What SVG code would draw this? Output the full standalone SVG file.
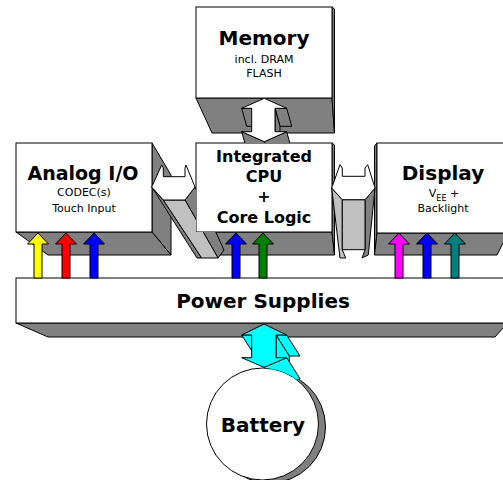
<svg xmlns="http://www.w3.org/2000/svg" xmlns:xlink="http://www.w3.org/1999/xlink" width="503" height="480" viewBox="0 0 503 480">
<style>
.face{fill:#fff;stroke:#000;stroke-width:1}
.sh{fill:#808080;stroke:#000;stroke-width:1;stroke-linejoin:round}
.lt{fill:#c0c0c0;stroke:#000;stroke-width:1;stroke-linejoin:round}
.wa{fill:#fff;stroke:#000;stroke-width:1;stroke-linejoin:round}
.cy{fill:#00ffff;stroke:#000;stroke-width:1;stroke-linejoin:round}
.t1{font-family:"DejaVu Sans",sans-serif;font-weight:bold;text-anchor:middle;fill:#000}
.t2{font-family:"DejaVu Sans",sans-serif;font-size:11px;text-anchor:middle;fill:#000}
</style>
<defs>
<path id="pa" d="M0,233 L10.5,244 L4,244 L4,278 L-4,278 L-4,244 L-10.5,244 Z" stroke="#000" stroke-width="1" stroke-linejoin="miter"/>
<clipPath id="noCpu"><path clip-rule="evenodd" d="M0 0H503V480H0Z M196 143H332V232H196Z"/></clipPath>
<clipPath id="noBat"><path clip-rule="evenodd" d="M0 0H503V480H0Z M206.5 424a56 56 0 1 0 112 0a56 56 0 1 0 -112 0Z"/></clipPath>
</defs>

<g id="memory">
<polygon class="sh" points="196,98 332,98 334.5,133 212,133"/>
<polygon class="sh" points="332,7 334.5,9 334.5,133 332,98"/>
<rect class="face" x="196" y="7" width="136" height="91"/>
<text class="t1" x="264" y="45" font-size="20">Memory</text>
<text class="t2" x="264" y="63">incl. DRAM</text>
<text class="t2" x="264" y="77">FLASH</text>
</g>

<g id="analog">
<polygon class="sh" points="152,143 171,175 171,255 152,232"/>
<polygon class="sh" points="16,232 152,232 171,255 48,255"/>
<rect class="face" x="16" y="143" width="136" height="89"/>
<text class="t1" x="83" y="180" font-size="19">Analog I/O</text>
<text class="t2" x="84" y="196">CODEC(s)</text>
<text class="t2" x="84" y="212">Touch Input</text>
</g>

<g id="cpu">
<polygon class="sh" points="196,232 332,232 334.5,255 206,255"/>
<polygon class="sh" points="332,143 334.5,145 334.5,255 332,232"/>
<rect class="face" x="196" y="143" width="136" height="89"/>
<text class="t1" x="264" y="162" font-size="16">Integrated</text>
<text class="t1" x="264" y="182" font-size="16">CPU</text>
<text class="t1" x="264" y="202" font-size="16">+</text>
<text class="t1" x="264" y="223" font-size="16">Core Logic</text>
</g>

<g id="display">
<polygon class="sh" points="377,143 374.5,146 374.5,255 377,233"/>
<polygon class="sh" points="377,233 504,233 504,241 497,255 374.5,255"/>
<rect class="face" x="377" y="143" width="130" height="90"/>
<text class="t1" x="443" y="180" font-size="20">Display</text>
<text class="t2" x="444" y="197">V<tspan font-size="8" dy="4">EE</tspan><tspan dy="-4"> +</tspan></text>
<text class="t2" x="443" y="212">Backlight</text>
</g>

<g id="power">
<polygon class="sh" points="16,323 504,323 504,327 495,337 48,337"/>
<rect class="face" x="16" y="278" width="490" height="45"/>
<text class="t1" x="263" y="308" font-size="20">Power Supplies</text>
</g>

<g id="battery">
<circle cx="269.5" cy="427" r="56" fill="#808080" stroke="#000" stroke-width="1"/>
<circle cx="262.5" cy="424" r="56" fill="#fff" stroke="#000" stroke-width="1"/>
<text class="t1" x="263" y="432" font-size="20">Battery</text>
</g>

<g id="connectors">
<g id="mem-cpu" clip-path="url(#noCpu)">
<polygon class="sh" points="251.7,108.3 241.7,108.3 246.7,126.3 256.7,126.3"/>
<polygon class="sh" points="286.7,108.3 275,108.3 280,126.3 291.7,126.3"/>
<polygon class="sh" points="275,108.3 275,131.7 280,149.7 280,126.3"/>
<polygon class="sh" points="286.7,131.7 264.3,141.7 269.3,159.7 291.7,149.7"/>
<polygon class="sh" points="264.3,141.7 241.7,131.7 246.7,149.7 269.3,159.7"/>
<polygon class="wa" points="264.3,98.3 286.7,108.3 275,108.3 275,131.7 286.7,131.7 264.3,141.7 241.7,131.7 251.7,131.7 251.7,108.3 241.7,108.3"/>
</g>
<g id="analog-cpu" clip-path="url(#noCpu)">
<polygon class="sh" points="151.7,186.7 163.3,200 201.7,258 197,258"/>
<polygon class="sh" points="195,187 185,200 218,258 224,250"/>
<polygon class="lt" points="163.3,200 185,200 218,258 201.7,258"/>
<polygon class="wa" points="151.7,187 161.7,165 163.3,168 163.3,176.7 185,176.7 185,168 186,165 195,187 185,200 163.3,200"/>
</g>
<g id="cpu-display">
<polygon class="lt" points="331.7,188 342.3,199.7 342.3,249.7 345.7,258 340,258"/>
<polygon class="sh" points="375,188 365,199.7 365,249.7 362,258 368.3,255"/>
<rect class="lt" x="342.3" y="199.7" width="22.7" height="50"/>
<polygon class="wa" points="331.7,188 340,164.7 342.3,168 342.3,176.3 365,176.3 365,168 367.7,164.7 375,188 365,199.7 342.3,199.7"/>
</g>
<g id="supply-lines">
<use xlink:href="#pa" href="#pa" x="38" fill="#ffff00"/>
<use xlink:href="#pa" href="#pa" x="66" fill="#ff0000"/>
<use xlink:href="#pa" href="#pa" x="94" fill="#0000ff"/>
<use xlink:href="#pa" href="#pa" x="236" fill="#0000ff"/>
<use xlink:href="#pa" href="#pa" x="263" fill="#008000"/>
<use xlink:href="#pa" href="#pa" x="399" fill="#ff00ff"/>
<use xlink:href="#pa" href="#pa" x="427" fill="#0000ff"/>
<use xlink:href="#pa" href="#pa" x="455" fill="#008080"/>
</g>
<g id="battery-power" clip-path="url(#noBat)">
<polygon class="cy" points="251.7,335 241.7,335 255,356 265,356"/>
<polygon class="cy" points="286.7,335 276,335 289.3,356 300,356"/>
<polygon class="cy" points="276,335 276,357.7 289.3,378.7 289.3,356"/>
<polygon class="cy" points="286.7,357.7 264,367.3 277.3,388.3 300,378.7"/>
<polygon class="cy" points="264,324 286.7,335 276,335 276,357.7 286.7,357.7 264,367.3 241.7,357.7 251.7,357.7 251.7,335 241.7,335"/>
</g>
</g>
</svg>
